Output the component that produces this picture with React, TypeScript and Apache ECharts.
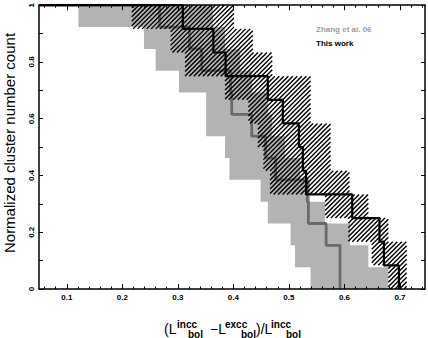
import React, { useEffect, useRef } from "react";
import * as echarts from "echarts";

// ---- Data ----
// This work: 12 clusters, sorted step positions and per-row error band edges
const thisWorkSteps = [0.309, 0.364, 0.386, 0.462, 0.489, 0.518, 0.525, 0.531, 0.614, 0.663, 0.671, 0.698];
const thisWorkLow = [0.217, 0.287, 0.313, 0.385, 0.427, 0.444, 0.454, 0.466, 0.565, 0.607, 0.649, 0.679];
const thisWorkHigh = [0.401, 0.435, 0.47, 0.539, 0.539, 0.575, 0.575, 0.609, 0.643, 0.679, 0.712, 0.712];

// Zhang et al. 06: 13 clusters
const zhangSteps = [0.267, 0.321, 0.343, 0.395, 0.397, 0.433, 0.458, 0.476, 0.533, 0.535, 0.567, 0.592, 0.592];
const zhangLow = [0.121, 0.239, 0.26, 0.302, 0.351, 0.351, 0.385, 0.393, 0.449, 0.462, 0.503, 0.511, 0.539];
const zhangHigh = [0.363, 0.385, 0.412, 0.434, 0.462, 0.47, 0.493, 0.52, 0.538, 0.565, 0.61, 0.643, 0.679];

const xTickLabels = [0.1, 0.2, 0.3, 0.4, 0.5, 0.6, 0.7];
const yTickLabels = [0, 0.2, 0.4, 0.6, 0.8, 1];

const X_MIN = 0.05;
const X_MAX = 0.745;
const FONT = "'Liberation Sans', Arial, Helvetica, sans-serif";

function stepLine(steps: number[]) {
  const n = steps.length;
  const pts: number[][] = [[X_MIN, 1]];
  steps.forEach((s, i) => {
    pts.push([s, 1 - i / n], [s, 1 - (i + 1) / n]);
  });
  return pts;
}

function bandPolygon(low: number[], high: number[]) {
  const n = low.length;
  const pts: number[][] = [];
  for (let k = 0; k < n; k++) {
    pts.push([low[k], 1 - k / n], [low[k], 1 - (k + 1) / n]);
  }
  for (let k = n - 1; k >= 0; k--) {
    pts.push([high[k], 1 - (k + 1) / n], [high[k], 1 - k / n]);
  }
  return pts;
}

function bandRows(low: number[], high: number[]) {
  const n = low.length;
  return low.map((lo, k) => [k, lo, high[k], 1 - k / n, 1 - (k + 1) / n]);
}

const minorX: number[] = [];
for (let i = 3; i <= 37; i++) {
  if (i % 5 !== 0) minorX.push(+(i * 0.02).toFixed(2));
}
const yTicks: number[] = [];
for (let i = 0; i <= 10; i++) yTicks.push(+(i * 0.1).toFixed(1));

export default function App() {
  const ref = useRef<HTMLDivElement>(null);
  useEffect(() => {
    if (!ref.current) return;
    const chart = echarts.init(ref.current, null, { renderer: "svg" });
    const zhangPoly = bandPolygon(zhangLow, zhangHigh);
    const hatchSpacing = 4.5;

    const baseX = (position: string, ticks: number[], len: number, showLine: boolean, labels: boolean) => ({
      type: "value",
      position,
      min: X_MIN,
      max: X_MAX,
      z: 10,
      axisLine: { show: showLine, onZero: false, lineStyle: { color: "#000", width: 1.5 } },
      axisTick: { show: true, inside: true, length: len, customValues: ticks, lineStyle: { color: "#000", width: 1 } },
      axisLabel: labels
        ? {
            show: true,
            customValues: xTickLabels,
            formatter: (v: number) => v.toFixed(1),
            fontSize: 8,
            fontWeight: "bold",
            color: "#000",
            fontFamily: FONT,
            margin: 4,
          }
        : { show: false },
      splitLine: { show: false },
    });

    const option: any = {
      animation: false,
      grid: { left: 39, right: 3, top: 2, bottom: 49, containLabel: false },
      xAxis: [
        baseX("bottom", xTickLabels, 5, true, true),
        baseX("bottom", minorX, 2.5, false, false),
        baseX("top", xTickLabels, 5, true, false),
        baseX("top", minorX, 2.5, false, false),
      ],
      yAxis: [
        {
          type: "value",
          position: "left",
          min: 0,
          max: 1,
          z: 10,
          axisLine: { show: true, onZero: false, lineStyle: { color: "#000", width: 1.5 } },
          axisTick: { show: true, inside: true, length: 4, customValues: yTicks, lineStyle: { color: "#000" } },
          axisLabel: {
            show: true,
            customValues: yTickLabels,
            rotate: 90,
            formatter: (v: number) => (v === 0 ? "0" : v === 1 ? "1" : v.toFixed(1)),
            fontSize: 8,
            fontWeight: "bold",
            color: "#000",
            fontFamily: FONT,
            margin: 4,
          },
          splitLine: { show: false },
        },
        {
          type: "value",
          position: "right",
          min: 0,
          max: 1,
          z: 10,
          axisLine: { show: true, onZero: false, lineStyle: { color: "#000", width: 1.5 } },
          axisTick: { show: true, inside: true, length: 4, customValues: yTicks, lineStyle: { color: "#000" } },
          axisLabel: { show: false },
          splitLine: { show: false },
        },
      ],
      series: [
        {
          type: "custom",
          name: "zhangBand",
          z: 1,
          silent: true,
          xAxisIndex: 0,
          yAxisIndex: 0,
          data: [[zhangLow[0], 1]],
          renderItem: (_p: any, api: any) => ({
            type: "polygon",
            shape: { points: zhangPoly.map((p) => api.coord(p)) },
            style: { fill: "#b3b3b3", stroke: "none" },
          }),
        },
        {
          type: "line",
          name: "Zhang et al. 06",
          z: 2,
          xAxisIndex: 0,
          yAxisIndex: 0,
          data: stepLine(zhangSteps),
          symbol: "none",
          clip: true,
          lineStyle: { color: "#6a6a6a", width: 2.8 },
        },
        {
          type: "custom",
          name: "thisWorkBand",
          z: 3,
          silent: true,
          xAxisIndex: 0,
          yAxisIndex: 0,
          data: bandRows(thisWorkLow, thisWorkHigh),
          renderItem: (_p: any, api: any) => {
            const lo = api.value(1);
            const hi = api.value(2);
            const yt = api.value(3);
            const yb = api.value(4);
            const p0 = api.coord([lo, yt]);
            const p1 = api.coord([hi, yb]);
            const x0 = p0[0], y0 = p0[1], x1 = p1[0], y1 = p1[1];
            const children: any[] = [];
            const cStart = Math.ceil((x0 + y0) / hatchSpacing) * hatchSpacing;
            for (let c = cStart; c <= x1 + y1; c += hatchSpacing) {
              const xa = Math.max(x0, c - y1);
              const xb = Math.min(x1, c - y0);
              if (xb > xa) {
                children.push({
                  type: "line",
                  shape: { x1: xa, y1: c - xa, x2: xb, y2: c - xb },
                  style: { stroke: "#000", lineWidth: 1.4 },
                });
              }
            }
            return { type: "group", children };
          },
        },
        {
          type: "line",
          name: "This work",
          z: 4,
          xAxisIndex: 0,
          yAxisIndex: 0,
          data: stepLine(thisWorkSteps),
          symbol: "none",
          clip: true,
          lineStyle: { color: "#000", width: 2.2 },
        },
      ],
      graphic: [
        {
          type: "text",
          x: 9.5,
          y: 143,
          rotation: Math.PI / 2,
          style: {
            text: "Normalized cluster number count",
            fontSize: 15,
            fontFamily: FONT,
            fill: "#000",
            align: "center",
            verticalAlign: "middle",
          },
        },
        { type: "text", x: 316, y: 29, style: { text: "Zhang et al. 06", fontSize: 8, fontWeight: "bold", fontFamily: FONT, fill: "#a0a0a0", align: "left", verticalAlign: "middle" } },
        { type: "text", x: 316, y: 43, style: { text: "This work", fontSize: 8, fontWeight: "bold", fontFamily: FONT, fill: "#000", align: "left", verticalAlign: "middle" } },
        // x-axis title pieces
        { type: "text", x: 164, y: 329, style: { text: "(L", fontSize: 14, fontFamily: FONT, fill: "#000", align: "left", verticalAlign: "middle" } },
        { type: "text", x: 177, y: 324, style: { text: "incc", fontSize: 10, fontWeight: "bold", fontFamily: FONT, fill: "#000", align: "left", verticalAlign: "middle" } },
        { type: "text", x: 188, y: 334, style: { text: "bol", fontSize: 10, fontWeight: "bold", fontFamily: FONT, fill: "#000", align: "left", verticalAlign: "middle" } },
        { type: "text", x: 210, y: 329, style: { text: "\u2212L", fontSize: 14, fontFamily: FONT, fill: "#000", align: "left", verticalAlign: "middle" } },
        { type: "text", x: 225, y: 324, style: { text: "excc", fontSize: 10, fontWeight: "bold", fontFamily: FONT, fill: "#000", align: "left", verticalAlign: "middle" } },
        { type: "text", x: 241, y: 334, style: { text: "bol", fontSize: 10, fontWeight: "bold", fontFamily: FONT, fill: "#000", align: "left", verticalAlign: "middle" } },
        { type: "text", x: 256, y: 329, style: { text: ")/L", fontSize: 14, fontFamily: FONT, fill: "#000", align: "left", verticalAlign: "middle" } },
        { type: "text", x: 271, y: 324, style: { text: "incc", fontSize: 10, fontWeight: "bold", fontFamily: FONT, fill: "#000", align: "left", verticalAlign: "middle" } },
        { type: "text", x: 286, y: 334, style: { text: "bol", fontSize: 10, fontWeight: "bold", fontFamily: FONT, fill: "#000", align: "left", verticalAlign: "middle" } },
      ],
    };
    chart.setOption(option);
    return () => chart.dispose();
  }, []);
  return (
    <div
      ref={ref}
      style={{ position: "fixed", left: 0, top: 0, width: 428, height: 338, background: "#fff" }}
    />
  );
}
